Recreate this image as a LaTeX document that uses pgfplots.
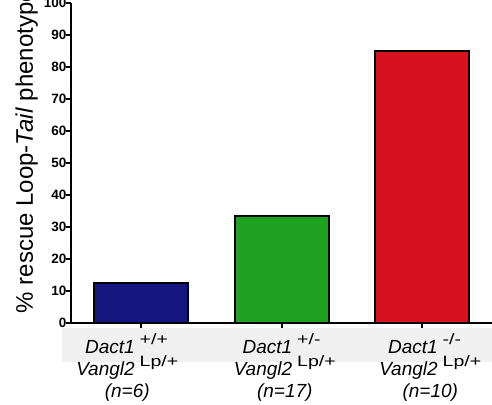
\documentclass[border=0pt]{standalone}
\usepackage{fontspec}
\setmainfont{Liberation Sans}
\usepackage{graphicx}
\usepackage{pgfplots}
\pgfplotsset{compat=1.18}
\definecolor{barblue}{RGB}{22,22,128}
\definecolor{bargreen}{RGB}{30,160,32}
\definecolor{barred}{RGB}{214,18,30}
\definecolor{band}{RGB}{240,240,240}
\newcommand\sups[1]{\smash{\raisebox{9pt}{\fontsize{15}{15}\selectfont\scalebox{1.3}[1]{#1}}}}
\newcommand\lab[3]{\hspace*{#1}{\fontsize{19}{22}\selectfont\begin{tabular}[t]{@{}r@{\hspace{5pt}}l@{}}\textit{Dact1} & \sups{#2}\\ \textit{Vangl2} & \sups{Lp/+}\\ \multicolumn{2}{c}{\textit{(n=#3)}}\end{tabular}}\hspace*{-#1}}
\begin{document}
\begin{tikzpicture}[x=1pt,y=1pt]
\path[use as bounding box] (-71,-81) rectangle (421,323);
\fill[band] (-9,-5) rectangle (421,-39);
\begin{axis}[
  at={(0,0)}, anchor=south west,
  scale only axis, width=421.5pt, height=320pt,
  xmin=-0.5, xmax=2.5, ymin=0, ymax=100,
  axis lines=left, axis line style={line width=2.4pt, -},
  ytick={0,10,...,100},
  yticklabel={\pgfmathprintnumber{\tick}},
  xtick={0,1,2},
  xticklabels={{\lab{-14pt}{+/+}{6}},{\lab{3pt}{+/-}{17}},{\lab{8pt}{-/-}{10}}},
  tick align=outside, major tick length=5pt,
  tick style={line width=2pt, black},
  /pgf/number format/assume math mode=true,
  yticklabel style={font=\fontsize{13.5}{14}\selectfont\bfseries, xshift=1.5pt, inner sep=1pt},
  xticklabel style={anchor=base, yshift=-25pt, inner sep=0pt},
  ylabel={\% rescue Loop-\textit{Tail} phenotype},
  ylabel style={at={(axis description cs:-0.105,0.537)}, anchor=center, font=\fontsize{24}{26}\selectfont},
  ybar, bar width=0.67, bar shift=0pt,
  clip=false,
]
\addplot[draw=black, line width=2pt, fill=barblue] coordinates {(0,12.5)};
\addplot[draw=black, line width=2pt, fill=bargreen] coordinates {(1,33.3)};
\addplot[draw=black, line width=2pt, fill=barred] coordinates {(2,85)};
\end{axis}
\end{tikzpicture}
\end{document}
